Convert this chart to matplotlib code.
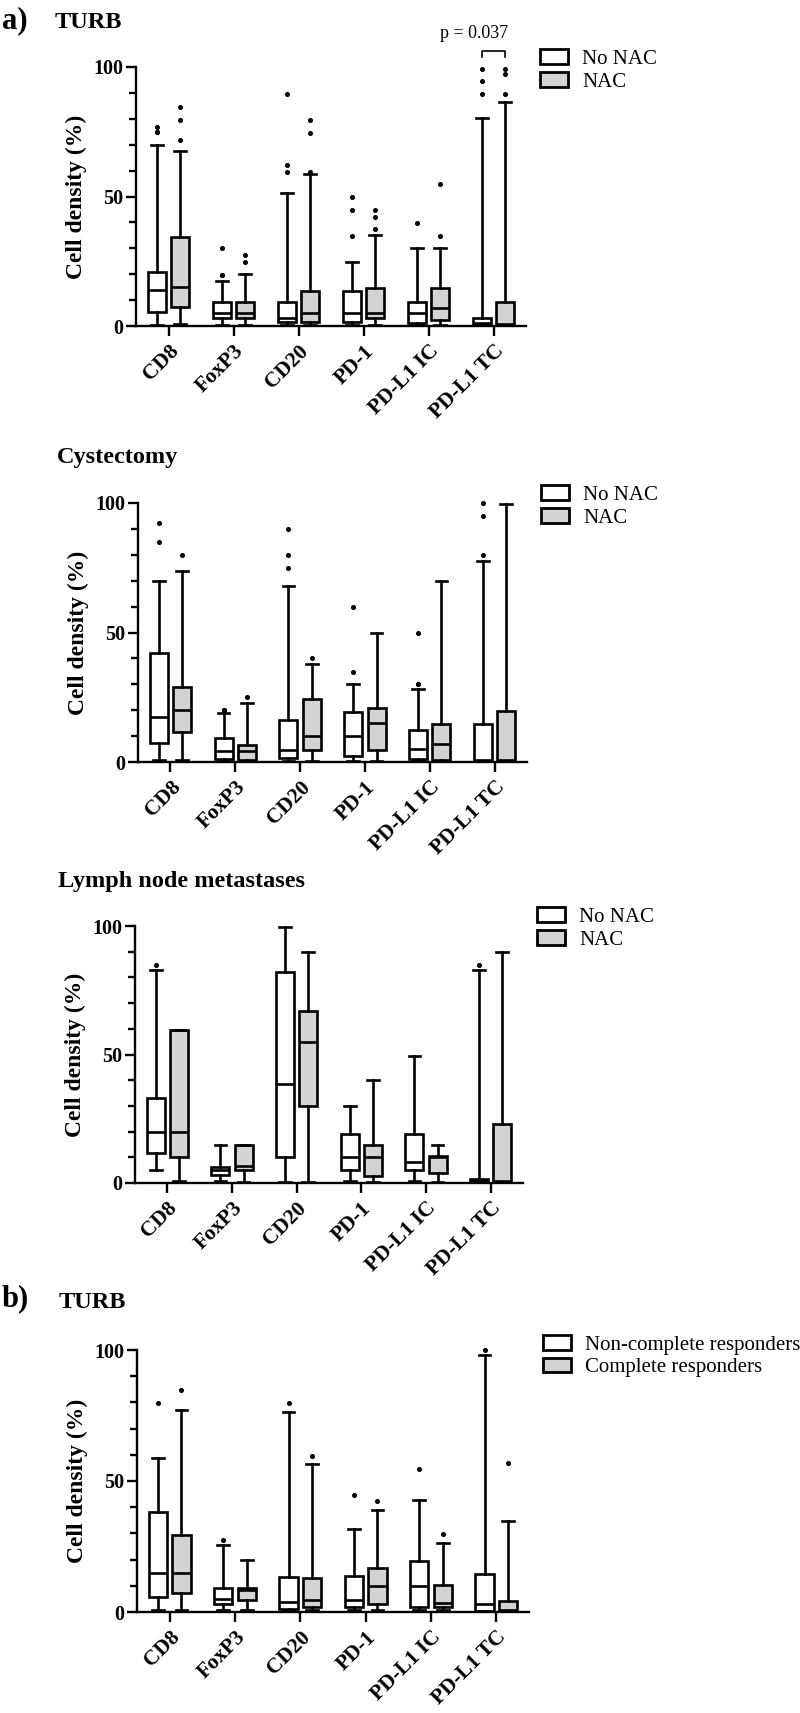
import matplotlib
matplotlib.use("Agg")
import matplotlib.pyplot as plt
from matplotlib.patches import Patch
from matplotlib.ticker import MultipleLocator

plt.rcParams['font.family'] = ['Liberation Serif', 'DejaVu Serif']

markers = ['CD8', 'FoxP3', 'CD20', 'PD-1', 'PD-L1 IC', 'PD-L1 TC']

# each row: whislo, q1, median, q3, whishi
turb_no_nac = [[0.5, 5.3, 14, 20.7, 70], [0.4, 3.2, 4.9, 9.4, 17.4], [0.4, 1.4, 3, 9.4, 51.5],
               [0.4, 1.7, 4.9, 13.5, 24.8], [0.4, 1.3, 4.9, 9.4, 30], [0.3, 0.5, 1, 3, 80.5]]
turb_no_nac_out = [[77, 75, 75], [30, 19.7, 19.7], [89.5, 62.3, 59.5], [50, 44.7, 34.7], [39.8], [99.4, 94.5, 89.5]]
turb_nac = [[0.8, 7.5, 15.2, 34.4, 67.6], [0.4, 3.2, 4.9, 9.4, 20], [0.4, 1.4, 4.9, 13.5, 58.6],
            [0.4, 3.2, 4.9, 14.5, 35], [0.4, 2.3, 6.8, 14.5, 30], [0.3, 0.4, 0.7, 9.4, 86.5]]
turb_nac_out = [[84.6, 79.7, 72], [27.4, 24.8], [79.7, 74.7, 59.5], [44.7, 42.2, 37.3], [54.8, 34.7], [99.4, 97.2, 89.5]]

cyst_no_nac = [[0.6, 7.5, 17.4, 42, 70], [0.4, 1.3, 4.1, 9.4, 19], [0.4, 1.7, 4.8, 16.4, 68],
               [0.4, 2.3, 10, 19.4, 30], [0.6, 1, 4.9, 12.5, 28.3], [0.3, 0.4, 0.6, 14.6, 77.5]]
cyst_no_nac_out = [[92.3, 84.8], [20, 20, 20], [90, 80, 74.8], [60, 34.8], [50, 30, 30], [100, 94.8, 80]]
cyst_nac = [[0.6, 11.6, 20, 29, 73.8], [0.4, 0.6, 4.1, 6.7, 22.6], [0.3, 4.8, 10, 24.5, 38],
            [0.3, 4.8, 15.1, 21, 50], [0.3, 0.6, 7.1, 14.6, 69.7], [0.3, 0.4, 0.6, 19.6, 99.6]]
cyst_nac_out = [[80], [25.2], [40], [], [], []]

lymph_no_nac = [[4.9, 11.6, 19.8, 33.2, 82.8], [0.6, 3.2, 4.9, 6.2, 14.6], [0.4, 10.3, 38.6, 82.1, 99.6],
                [0.6, 5.2, 10, 19, 29.8], [0.9, 4.9, 8, 19, 49.4], [0.4, 0.6, 1, 1.6, 82.8]]
lymph_no_nac_out = [[85], [], [], [], [], [85]]
lymph_nac = [[0.6, 10.1, 19.8, 59.5, 59.5], [0.4, 4.9, 6.7, 14.6, 14.6], [0.3, 30.1, 55, 67, 90],
             [0.3, 2.6, 10, 14.6, 40.1], [0.3, 3.9, 10, 10.7, 14.9], [0.3, 0.4, 0.6, 23, 90]]
lymph_nac_out = [[], [], [], [], [], []]

resp_non = [[0.6, 5.7, 14.9, 38, 58.6], [0.6, 3.2, 4.8, 9.3, 25.7], [0.6, 1, 3.8, 13.4, 76.2],
            [0.6, 1.9, 4.5, 13.6, 31.7], [0.6, 1.9, 9.8, 19.4, 42.7], [0.3, 0.4, 2.9, 14.4, 98]]
resp_non_out = [[79.6], [27.4], [79.6], [44.8], [54.5], [100]]
resp_complete = [[0.6, 7.3, 14.9, 29.3, 77], [0.6, 4.5, 8.3, 9.3, 19.7], [0.6, 1.9, 4.5, 13.1, 56.3],
                 [0.6, 3.2, 9.9, 16.8, 38.9], [0.6, 1.9, 3.4, 10.4, 26.5], [0.3, 0.4, 0.6, 4.2, 34.6]]
resp_complete_out = [[84.7], [], [59.6], [42.3], [29.6], [57]]

panels = [
    (turb_no_nac, turb_no_nac_out, turb_nac, turb_nac_out, ['No NAC', 'NAC'], [136, 526, 67, 326], 1.068),
    (cyst_no_nac, cyst_no_nac_out, cyst_nac, cyst_nac_out, ['No NAC', 'NAC'], [138, 527, 503, 762], 1.068),
    (lymph_no_nac, lymph_no_nac_out, lymph_nac, lymph_nac_out, ['No NAC', 'NAC'], [135, 523, 926, 1183], 1.072),
    (resp_non, resp_non_out, resp_complete, resp_complete_out, ['Non-complete responders', 'Complete responders'],
     [137, 529, 1350, 1612], 1.058),
]

W, H = 800, 1713
fig = plt.figure(figsize=(W / 100, H / 100), dpi=100)
grey = '#d3d3d3'
lw = 1.9


def stats(rows, outs):
    return [dict(whislo=r[0], q1=r[1], med=r[2], q3=r[3], whishi=r[4], fliers=o) for r, o in zip(rows, outs)]


axes = []
for g1, o1, g2, o2, labels, (x0, x1, y0, y1), leg_y in panels:
    ax = fig.add_axes([x0 / W, 1 - y1 / H, (x1 - x0) / W, (y1 - y0) / H])
    axes.append(ax)
    for rows, outs, pos, fc in [(g1, o1, -0.18, 'white'), (g2, o2, 0.18, grey)]:
        res = ax.bxp(stats(rows, outs), positions=[i + pos for i in range(6)], widths=0.28,
                     capwidths=0.18, patch_artist=True,
                     boxprops=dict(facecolor=fc, edgecolor='black', linewidth=lw),
                     medianprops=dict(color='black', linewidth=lw),
                     whiskerprops=dict(color='black', linewidth=lw),
                     capprops=dict(color='black', linewidth=lw),
                     flierprops=dict(marker='o', markerfacecolor='black', markeredgecolor='black',
                                     markersize=2.6, linestyle='none'),
                     manage_ticks=False)
        for k in res:
            for a in res[k]:
                a.set_clip_on(False)
    ax.set_xlim(-0.5, 5.5)
    ax.set_ylim(0, 100)
    ax.set_yticks([0, 50, 100])
    ax.yaxis.set_minor_locator(MultipleLocator(10))
    ax.set_xticks(range(6))
    ax.set_xticklabels(markers, rotation=45, ha='right', rotation_mode='anchor',
                       fontsize=15.5, fontweight='bold')
    for t in ax.get_yticklabels():
        t.set_fontsize(14.5)
        t.set_fontweight('bold')
    ax.tick_params(axis='both', which='major', length=7, width=1.7, pad=2)
    ax.tick_params(axis='y', which='minor', length=5, width=1.7)
    ax.tick_params(axis='x', pad=4)
    for s in ['top', 'right']:
        ax.spines[s].set_visible(False)
    for s in ['left', 'bottom']:
        ax.spines[s].set_linewidth(1.7)
    ax.set_ylabel('Cell density (%)', fontsize=17, fontweight='bold', labelpad=5)
    handles = [Patch(facecolor='white', edgecolor='black', linewidth=2),
               Patch(facecolor=grey, edgecolor='black', linewidth=2)]
    ax.legend(handles, labels, loc='upper left', bbox_to_anchor=(1.035, leg_y), frameon=False,
              fontsize=15, handlelength=1.35, handleheight=0.72, handletextpad=0.7,
              labelspacing=0.15, borderpad=0, borderaxespad=0)

# significance bracket, TURB PD-L1 TC
ax = axes[0]
ax.plot([4.82, 4.82, 5.18, 5.18], [104, 106, 106, 104], color='black', lw=1.2, clip_on=False)
ax.text(4.7, 113, 'p = 0.037', ha='center', va='center', fontsize=13, clip_on=False)

fig.text(0.002, 1 - 21 / H, 'a)', fontsize=22, fontweight='bold', va='center')
fig.text(55 / W, 1 - 22 / H, 'TURB', fontsize=17.5, fontweight='bold', va='center')
fig.text(57 / W, 1 - 457 / H, 'Cystectomy', fontsize=17.5, fontweight='bold', va='center')
fig.text(58 / W, 1 - 882 / H, 'Lymph node metastases', fontsize=17.5, fontweight='bold', va='center')
fig.text(0.002, 1 - 1299 / H, 'b)', fontsize=22, fontweight='bold', va='center')
fig.text(59 / W, 1 - 1302 / H, 'TURB', fontsize=17.5, fontweight='bold', va='center')

fig.savefig('out.png', dpi=100)
